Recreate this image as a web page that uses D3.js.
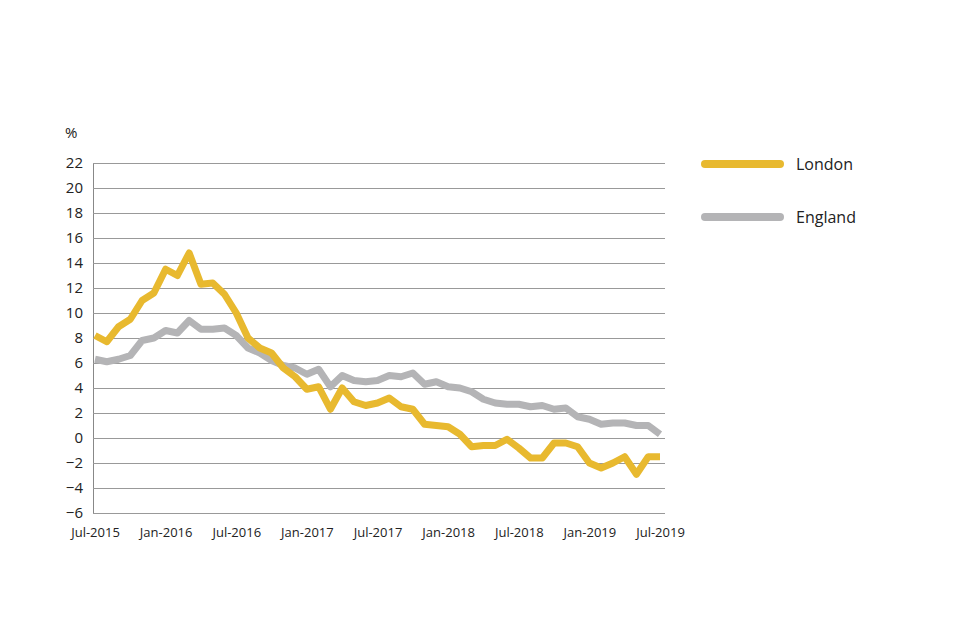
<!DOCTYPE html>
<html><head><meta charset="utf-8">
<script src="https://cdn.jsdelivr.net/npm/d3@7"></script>
<style>body{margin:0;background:#fff;font-family:"Open Sans",Lato,sans-serif;}</style>
</head><body><div id="chart"></div>
<script>
const london = [8.2,7.7,8.9,9.5,11.0,11.6,13.5,13.0,14.8,12.3,12.4,11.5,10.0,8.0,7.2,6.8,5.6,4.9,3.9,4.1,2.3,4.0,2.9,2.6,2.8,3.2,2.5,2.3,1.1,1.0,0.9,0.3,-0.7,-0.6,-0.6,-0.1,-0.8,-1.6,-1.6,-0.4,-0.4,-0.7,-2.0,-2.4,-2.0,-1.5,-2.9,-1.5,-1.5];
const england = [6.3,6.1,6.3,6.6,7.8,8.0,8.6,8.4,9.4,8.7,8.7,8.8,8.2,7.2,6.8,6.2,5.8,5.6,5.1,5.5,4.1,5.0,4.6,4.5,4.6,5.0,4.9,5.2,4.3,4.5,4.1,4.0,3.7,3.1,2.8,2.7,2.7,2.5,2.6,2.3,2.4,1.7,1.5,1.1,1.2,1.2,1.0,1.0,0.3];
const xTickLabels = ["Jul-2015","Jan-2016","Jul-2016","Jan-2017","Jul-2017","Jan-2018","Jul-2018","Jan-2019","Jul-2019"];
const yTicks = d3.range(-6, 23, 2);
const series = [
  { name: "London", values: london, color: "#e8b92f" },
  { name: "England", values: england, color: "#b4b4b6" },
];

const width = 960, height = 640;
const svg = d3.select("#chart").append("svg").attr("width", width).attr("height", height);

const x = d3.scaleLinear().domain([0, london.length - 1]).range([95, 660]);
const y = d3.scaleLinear().domain([-6, 22]).range([513, 163]);

svg.append("g")
  .attr("transform", "translate(93,0)")
  .call(d3.axisLeft(y).tickValues(yTicks).tickSize(-572).tickPadding(10))
  .call((g) => g.select(".domain").attr("stroke", "#888"))
  .call((g) => g.selectAll(".tick line").attr("stroke", "#999").attr("stroke-width", 1))
  .call((g) => g.selectAll(".tick text").attr("fill", "#222").attr("font-size", 15)
    .attr("font-family", "Open Sans, sans-serif"));

svg.append("text").attr("x", 65).attr("y", 138).attr("font-size", 15).attr("fill", "#222").text("%");

svg.append("g")
  .attr("transform", "translate(0,513)")
  .call(d3.axisBottom(x).tickValues(d3.range(0, 49, 6)).tickFormat((d, i) => xTickLabels[i]).tickSize(0).tickPadding(15))
  .call((g) => g.select(".domain").remove())
  .call((g) => g.selectAll("text").attr("fill", "#222").attr("font-size", 13)
    .attr("font-family", "Open Sans, sans-serif"));

const line = d3.line().x((d, i) => x(i)).y((d) => y(d));

series.slice().reverse().forEach((s) => {
  svg.append("path").datum(s.values).attr("d", line)
    .attr("fill", "none").attr("stroke", s.color).attr("stroke-width", 7)
    .attr("stroke-linejoin", "round");
});

series.forEach((s, i) => {
  const gy = 164 + i * 53;
  svg.append("line").attr("x1", 705).attr("x2", 780).attr("y1", gy).attr("y2", gy)
    .attr("stroke", s.color).attr("stroke-width", 8).attr("stroke-linecap", "round");
  svg.append("text").attr("x", 796).attr("y", gy + 6).attr("font-size", 16).attr("fill", "#222").text(s.name);
});
</script></body></html>
